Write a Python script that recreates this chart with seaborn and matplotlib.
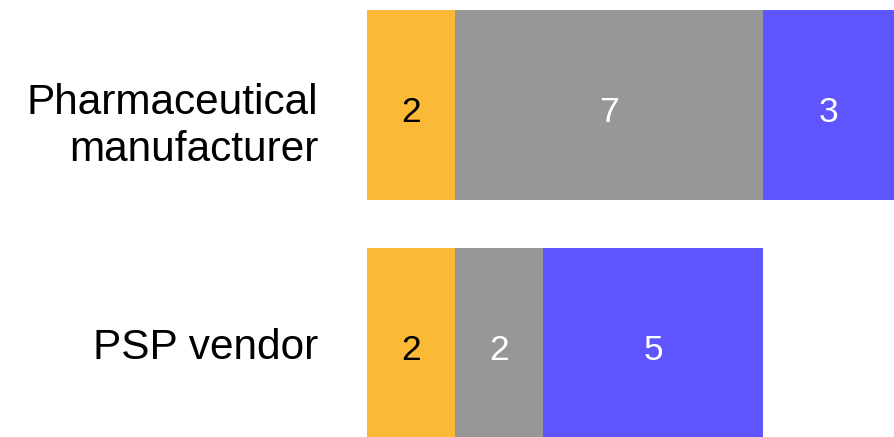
import matplotlib
matplotlib.use("Agg")
import matplotlib.pyplot as plt
import matplotlib.transforms as mtransforms
import numpy as np
import pandas as pd
import seaborn as sns

# Counts per respondent group, split into three response classes
categories = ["Pharmaceutical\nmanufacturer", "PSP vendor"]
seg_first = [2, 2]
seg_second = [7, 2]
seg_third = [3, 5]

colors = ["#FBBA35", "#979797", "#5F55FF"]
text_colors = ["black", "white", "white"]

sns.set_theme(style="white")
plt.rcParams["font.family"] = ["Liberation Sans", "DejaVu Sans"]

segments = np.array([seg_first, seg_second, seg_third], dtype=float)
cum = segments.cumsum(axis=0)

fig = plt.figure(figsize=(8.95, 4.37), dpi=100)
ax = fig.add_axes([367 / 895, 0.0, 1 - 367 / 895, 1 - 10 / 437])

# Stack by drawing cumulative totals from the outermost segment inward
for i in reversed(range(3)):
    df = pd.DataFrame({"group": categories, "value": cum[i]})
    sns.barplot(data=df, x="value", y="group", orient="h", color=colors[i],
                saturation=1, width=0.8, linewidth=0, ax=ax)

# Value labels in the middle of each segment
for i in range(3):
    for j in range(len(categories)):
        mid = cum[i, j] - segments[i, j] / 2
        ax.text(mid, j + 0.03, f"{int(segments[i, j])}", ha="center", va="center",
                fontsize=25.5, color=text_colors[i])

ax.set_xlim(0, 12)
ax.set_ylim(1.395, -0.4)
ax.set_xlabel("")
ax.set_ylabel("")
ax.set_xticks([])
ax.tick_params(axis="y", length=0, pad=35, labelsize=30.5, labelcolor="black")
shift_down = mtransforms.ScaledTranslation(0, -0.13, fig.dpi_scale_trans)
for lbl in ax.get_yticklabels():
    lbl.set_horizontalalignment("right")
    lbl.set_linespacing(1.25)
    if "\n" in lbl.get_text():
        lbl.set_transform(lbl.get_transform() + shift_down)
sns.despine(ax=ax, left=True, bottom=True)

fig.savefig("out.png", dpi=100)
